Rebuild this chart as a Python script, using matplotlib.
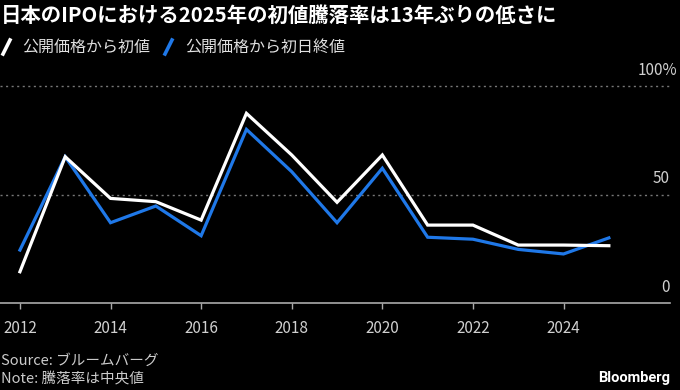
import matplotlib
matplotlib.use("Agg")
import matplotlib.pyplot as plt
from matplotlib.lines import Line2D

plt.rcParams['font.family'] = ['Noto Sans CJK JP', 'DejaVu Sans']

# ---- data ----
years = [2012, 2013, 2014, 2015, 2016, 2017, 2018, 2019, 2020, 2021, 2022, 2023, 2024, 2025]
first_price = [14.4, 67.4, 48.2, 46.7, 38.2, 87.4, 68.2, 46.4, 68.2, 35.9, 35.9, 26.7, 26.7, 26.4]
first_close = [24.4, 67.4, 37.0, 44.7, 31.0, 80.0, 60.5, 37.0, 62.1, 30.3, 29.4, 24.7, 22.6, 30.0]
x_ticks = [2012, 2014, 2016, 2018, 2020, 2022, 2024]
y_ticks = [0, 50, 100]
y_labels = ["0", "50", "100%"]
series_names = ["公開価格から初値", "公開価格から初日終値"]
title = "日本のIPOにおける2025年の初値騰落率は13年ぶりの低さに"
source = "Source: ブルームバーグ"
note = "Note: 騰落率は中央値"

W, H = 680, 390
BLUE = "#1f78e8"
WHITE = "#ffffff"
GRID = "#777777"
TICKTXT = "#d0d0d0"

fig = plt.figure(figsize=(W / 100, H / 100), dpi=100, facecolor="black")
ax_left, ax_right = 0 / W, 670 / W
ax_top, ax_bot = 1 - 86 / H, 1 - 303 / H
ax = fig.add_axes([ax_left, ax_bot, ax_right - ax_left, ax_top - ax_bot])
ax.set_facecolor("black")

ax.plot(years, first_close, color=BLUE, lw=2.3, solid_joinstyle="miter", clip_on=False, zorder=3)
ax.plot(years, first_price, color=WHITE, lw=2.3, solid_joinstyle="miter", clip_on=False, zorder=4)

ax.set_xlim(2011.56, 2026.35)
ax.set_ylim(0, 100)

for s in ["top", "right", "left"]:
    ax.spines[s].set_visible(False)
ax.spines["bottom"].set_color("#aaaaaa")
ax.spines["bottom"].set_linewidth(1.2)

ax.set_xticks(x_ticks)
ax.set_xticklabels([str(t) for t in x_ticks])
ax.tick_params(axis="x", colors="#aaaaaa", length=4, width=1, pad=8, labelsize=11, labelcolor=TICKTXT)
ax.set_yticks([])

for v in y_ticks[1:]:
    ax.axhline(v, color=GRID, lw=1, ls=(0, (1.5, 2.5)), zorder=1, clip_on=False)

for v, lab in zip(y_ticks, y_labels):
    dx = 5.5 if lab.endswith("%") else 0
    ax.annotate(lab, xy=(1, v), xycoords=("axes fraction", "data"),
                xytext=(dx, 11.5), textcoords="offset points",
                ha="right", va="center", fontsize=11, color=TICKTXT, annotation_clip=False)

# title
fig.text(1 / W, 1 - 15 / H, title, fontsize=14.7, fontweight="bold", color="white",
         ha="left", va="center")

# legend
ly = 1 - 47 / H
def slash(x0, color):
    fig.add_artist(Line2D([x0 / W, (x0 + 7) / W], [1 - 54 / H, 1 - 40 / H],
                          transform=fig.transFigure, color=color, lw=2.6))
slash(3, WHITE)
fig.text(22 / W, ly, series_names[0], fontsize=11.5, color="#e0e0e0", ha="left", va="center")
slash(165, BLUE)
fig.text(185 / W, ly, series_names[1], fontsize=11.5, color="#e0e0e0", ha="left", va="center")

# footer
fig.text(1 / W, 1 - 361 / H, source, fontsize=10.5, color="#cccccc", ha="left", va="center")
fig.text(1 / W, 1 - 379 / H, note, fontsize=10.5, color="#cccccc", ha="left", va="center")
fig.text(670 / W, 1 - 378 / H, "Bloomberg", fontsize=10.5, fontweight="bold", color="white",
         ha="right", va="center", family=["Roboto", "DejaVu Sans"])

fig.savefig("out.png", dpi=100, facecolor="black")
